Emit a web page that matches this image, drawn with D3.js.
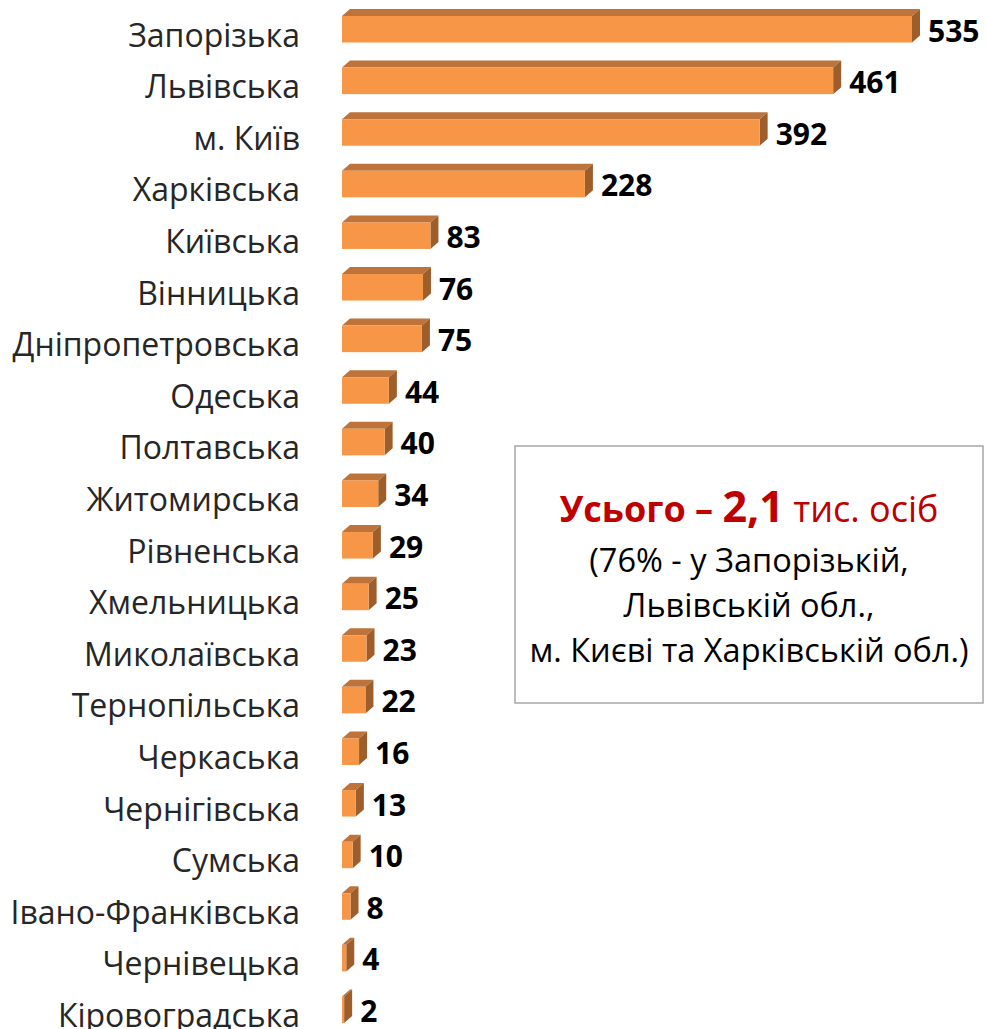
<!DOCTYPE html>
<html>
<head>
<meta charset="utf-8">
<script src="https://cdn.jsdelivr.net/npm/d3@7"></script>
<style>
  body { margin: 0; background: #fff; }
  svg { display: block; }
</style>
</head>
<body>
<svg id="chart"></svg>
<script>
// regions, top to bottom
var regions = ["Запорізька", "Львівська", "м. Київ", "Харківська", "Київська", "Вінницька",
  "Дніпропетровська", "Одеська", "Полтавська", "Житомирська", "Рівненська", "Хмельницька",
  "Миколаївська", "Тернопільська", "Черкаська", "Чернігівська", "Сумська",
  "Івано-Франківська", "Чернівецька", "Кіровоградська"];
var persons = [535, 461, 392, 228, 83, 76, 75, 44, 40, 34, 29, 25, 23, 22, 16, 13, 10, 8, 4, 2];

var noteTitle = ["Усього – ", "2,1", " тис. осіб"];
var noteLines = ["(76% - у Запорізькій,", "Львівській обл.,", "м. Києві та Харківській обл.)"];

var W = 986, H = 1029,
	FONT = "'Open Sans', sans-serif",
	DX = 8, DY = 7,
	front = "#F79646", top_ = "#BD7339", side = "#9E5E2C";

var svg = d3.select("#chart").attr("width", W).attr("height", H);

var x = d3.scaleLinear().domain([0, 535]).range([342, 912]);
var y = d3.scaleBand().domain(regions).range([16, 1023]).paddingInner(0.486).paddingOuter(0);

var rows = svg.selectAll(".row").data(regions).enter().append("g").attr("class", "row");

// top face
rows.append("path")
	.attr("d", function(d, i) {
		var x0 = x(0), x1 = x(persons[i]), y0 = y(d);
		return "M" + x0 + "," + y0 + "L" + (x0 + DX) + "," + (y0 - DY) + "L" + (x1 + DX) + "," + (y0 - DY) + "L" + x1 + "," + y0 + "Z";
	})
	.style("fill", top_);
// side face
rows.append("path")
	.attr("d", function(d, i) {
		var x1 = x(persons[i]), y0 = y(d), y1 = y0 + y.bandwidth();
		return "M" + x1 + "," + y0 + "L" + (x1 + DX) + "," + (y0 - DY) + "L" + (x1 + DX) + "," + (y1 - DY) + "L" + x1 + "," + y1 + "Z";
	})
	.style("fill", side);
// front face
rows.append("rect")
	.attr("x", x(0))
	.attr("y", function(d) { return y(d); })
	.attr("width", function(d, i) { return x(persons[i]) - x(0); })
	.attr("height", y.bandwidth())
	.style("fill", front);

rows.append("text")
	.attr("x", 300)
	.attr("y", function(d) { return y(d) + y.bandwidth() + 4; })
	.attr("text-anchor", "end")
	.style("font-family", FONT).style("font-size", "32px").style("fill", "#262626")
	.text(function(d) { return d; });

rows.append("text")
	.attr("x", function(d, i) { return x(persons[i]) + DX + 8; })
	.attr("y", function(d) { return y(d) + y.bandwidth() - 1; })
	.style("font-family", FONT).style("font-size", "30px").style("font-weight", "bold").style("fill", "#000")
	.text(function(d, i) { return persons[i]; });

// note box
var note = svg.append("g");
note.append("rect")
	.attr("x", 515).attr("y", 446).attr("width", 468).attr("height", 257)
	.style("fill", "#fff").style("stroke", "#A6A6A6").style("stroke-width", 1.5);

var t = note.append("text")
	.attr("x", 749).attr("y", 522)
	.attr("text-anchor", "middle")
	.style("font-family", FONT).style("fill", "#C00000");
t.append("tspan").text(noteTitle[0]).style("font-weight", "bold").style("font-size", "36px");
t.append("tspan").text(noteTitle[1]).style("font-weight", "bold").style("font-size", "43px");
t.append("tspan").text(noteTitle[2]).style("font-size", "36px");

note.selectAll(".line").data(noteLines).enter().append("text")
	.attr("x", 749)
	.attr("y", function(d, i) { return 572 + i * 45; })
	.attr("text-anchor", "middle")
	.style("font-family", FONT).style("font-size", "32.5px").style("fill", "#000")
	.text(function(d) { return d; });
</script>
</body>
</html>
